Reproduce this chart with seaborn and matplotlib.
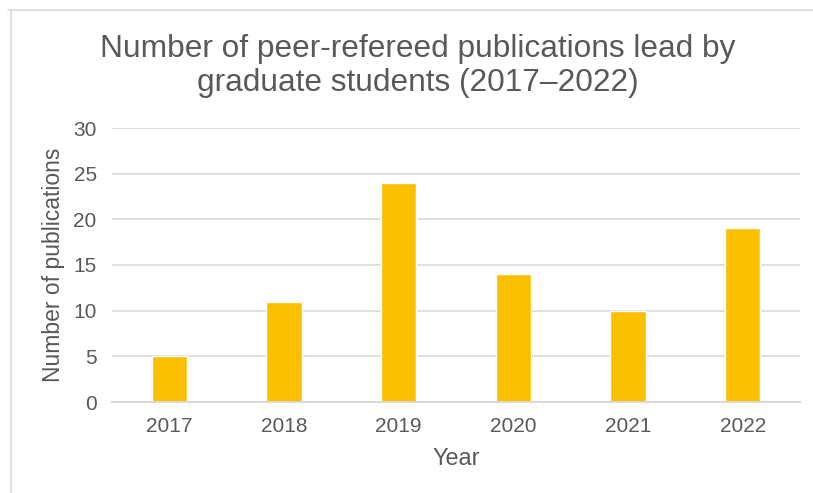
import matplotlib
matplotlib.use("Agg")
import matplotlib.pyplot as plt
from matplotlib.lines import Line2D
import seaborn as sns
import pandas as pd

years = ["2017", "2018", "2019", "2020", "2021", "2022"]
publications = [5, 11, 24, 14, 10, 19]
y_ticks = [0, 5, 10, 15, 20, 25, 30]

sns.set_theme(style="white")
plt.rcParams["font.family"] = ["Liberation Sans", "DejaVu Sans"]

text_color = "#595959"
grid_color = "#D9D9D9"
bar_color = "#FBBF00"

df = pd.DataFrame({"Year": years, "Publications": publications})

W, H = 813, 493
fig = plt.figure(figsize=(W / 100, H / 100), dpi=100)
ax = fig.add_axes([112 / W, 1 - 402 / H, (800 - 112) / W, (402 - 128) / H])

sns.barplot(data=df, x="Year", y="Publications", color=bar_color,
            width=0.31, saturation=1, ax=ax, zorder=3)

ax.set_ylim(0, 30)
ax.set_xlim(-0.5, len(years) - 0.5)
ax.set_yticks(y_ticks)
ax.set_yticklabels([str(t) for t in y_ticks])
ax.yaxis.grid(True, color=grid_color, linewidth=1.2, zorder=0)
ax.xaxis.grid(False)
for side in ["top", "right", "left"]:
    ax.spines[side].set_visible(False)
ax.spines["bottom"].set_color(grid_color)
ax.spines["bottom"].set_linewidth(1.4)
ax.spines["bottom"].set_zorder(4)

ax.tick_params(axis="both", length=0, labelsize=15, labelcolor=text_color)
ax.tick_params(axis="y", pad=11)
ax.tick_params(axis="x", pad=11)

ax.set_xlabel("Year", fontsize=16.8, color=text_color, labelpad=8)
ax.set_ylabel("Number of publications", fontsize=16.5, color=text_color, labelpad=6)

fig.text(418 / W, 1 - 66 / H,
         "Number of peer-refereed publications lead by\ngraduate students (2017\u20132022)",
         ha="center", va="center", fontsize=22.8, color=text_color, linespacing=1.2)

# outer chart frame (top and left edges)
fig.add_artist(Line2D([8 / W, 1], [1 - 10 / H, 1 - 10 / H], color=grid_color,
                      linewidth=1.2, transform=fig.transFigure))
fig.add_artist(Line2D([11 / W, 11 / W], [0, 1 - 10 / H], color=grid_color,
                      linewidth=1.2, transform=fig.transFigure))

fig.savefig("out.png", dpi=100)
